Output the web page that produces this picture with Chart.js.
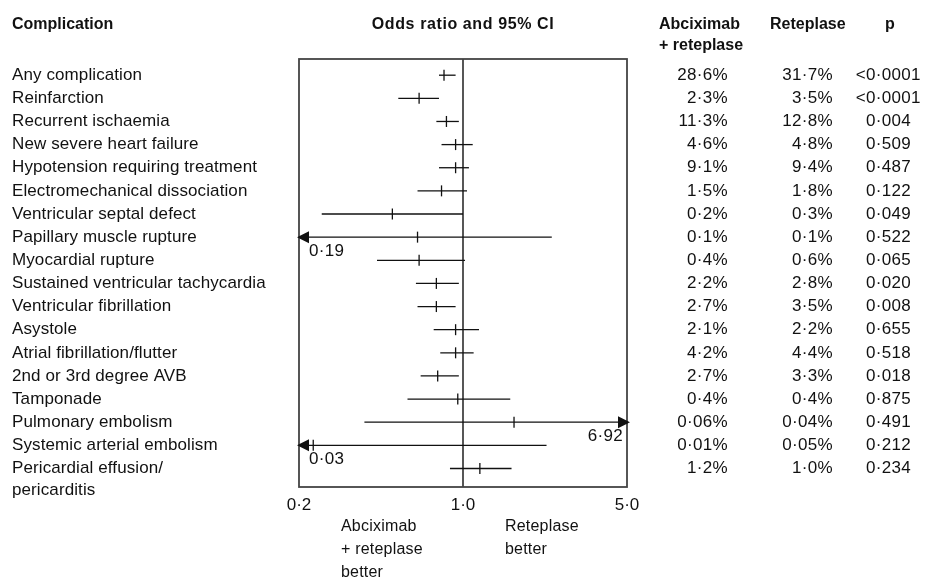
<!DOCTYPE html>
<html>
<head>
<meta charset="utf-8">
<script src="https://cdn.jsdelivr.net/npm/chart.js@4"></script>
<style>
  html, body { margin: 0; padding: 0; background: #fff; }
  #wrap { width: 927px; height: 579px; }
</style>
</head>
<body>
<div id="wrap"><canvas id="forest"></canvas></div>
<script>
        // rows of the forest plot
        const categories = [
            'Any complication', 'Reinfarction', 'Recurrent ischaemia', 'New severe heart failure',
            'Hypotension requiring treatment', 'Electromechanical dissociation', 'Ventricular septal defect',
            'Papillary muscle rupture', 'Myocardial rupture', 'Sustained ventricular tachycardia',
            'Ventricular fibrillation', 'Asystole', 'Atrial fibrillation/flutter', '2nd or 3rd degree AVB',
            'Tamponade', 'Pulmonary embolism', 'Systemic arterial embolism', ['Pericardial effusion/', 'pericarditis']
        ];
        const oddsRatio = [0.83, 0.65, 0.85, 0.93, 0.93, 0.81, 0.50, 0.64, 0.65, 0.77, 0.77, 0.93, 0.93, 0.78, 0.95, 1.65, 0.23, 1.18];
        const ciLow     = [0.79, 0.53, 0.77, 0.81, 0.79, 0.64, 0.25, 0.19, 0.43, 0.63, 0.64, 0.75, 0.80, 0.66, 0.58, 0.38, 0.03, 0.88];
        const ciHigh    = [0.93, 0.79, 0.96, 1.10, 1.06, 1.04, 1.00, 2.39, 1.02, 0.96, 0.93, 1.17, 1.11, 0.96, 1.59, 6.92, 2.27, 1.61];
        const abcRete   = ['28·6%', '2·3%', '11·3%', '4·6%', '9·1%', '1·5%', '0·2%', '0·1%', '0·4%', '2·2%', '2·7%', '2·1%', '4·2%', '2·7%', '0·4%', '0·06%', '0·01%', '1·2%'];
        const rete      = ['31·7%', '3·5%', '12·8%', '4·8%', '9·4%', '1·8%', '0·3%', '0·1%', '0·6%', '2·8%', '3·5%', '2·2%', '4·4%', '3·3%', '0·4%', '0·04%', '0·05%', '1·0%'];
        const pValues   = ['<0·0001', '<0·0001', '0·004', '0·509', '0·487', '0·122', '0·049', '0·522', '0·065', '0·020', '0·008', '0·655', '0·518', '0·018', '0·875', '0·491', '0·212', '0·234'];
        const xTicks = [0.2, 1, 5];
        const xMin = 0.2, xMax = 5;

        const FONT = '"Liberation Sans", Arial, sans-serif';
        const dot = v => v.toFixed(1).replace('.', '·');
        const dot2 = v => String(v).replace('.', '·');

        // one small line dataset per CI
        const ciSets = categories.map((c, i) => ({
            type: 'line',
            data: [{ x: ciLow[i], y: i }, { x: ciHigh[i], y: i }],
            borderColor: '#111',
            borderWidth: 1.3,
            pointRadius: 0,
        }));

        const orSet = {
            type: 'scatter',
            data: oddsRatio.map((v, i) => ({ x: v, y: i })),
            pointStyle: 'line',
            rotation: 90,
            radius: 5.5,
            borderColor: '#111',
            borderWidth: 1.3,
        };

        // box, 1.0 line, arrows and all the text columns
        const forestDeco = {
            id: 'forestDeco',
            beforeDatasetsDraw(chart) {
                const { ctx, chartArea: a, scales: { x } } = chart;
                ctx.save();
                ctx.strokeStyle = '#444';
                ctx.lineWidth = 1.8;
                ctx.strokeRect(a.left, a.top, a.right - a.left, a.bottom - a.top);
                const x1 = x.getPixelForValue(1);
                ctx.beginPath();
                ctx.moveTo(x1, a.top);
                ctx.lineTo(x1, a.bottom);
                ctx.stroke();
                ctx.restore();
            },
            afterDraw(chart) {
                const { ctx, chartArea: a, scales: { x, y } } = chart;
                ctx.save();
                ctx.fillStyle = '#111';
                ctx.textBaseline = 'middle';

                // arrows for truncated intervals
                ctx.font = '17px ' + FONT;
                ctx.letterSpacing = '0.3px';
                categories.forEach((c, i) => {
                    const py = y.getPixelForValue(i);
                    if (ciLow[i] < xMin) {
                        ctx.beginPath();
                        ctx.moveTo(a.left - 2, py);
                        ctx.lineTo(a.left + 10, py - 6);
                        ctx.lineTo(a.left + 10, py + 6);
                        ctx.closePath();
                        ctx.fill();
                        ctx.textAlign = 'left';
                        ctx.fillText(dot2(ciLow[i]), a.left + 10, py + 14);
                    }
                    if (ciHigh[i] > xMax) {
                        ctx.beginPath();
                        ctx.moveTo(a.right + 3, py);
                        ctx.lineTo(a.right - 9, py - 6);
                        ctx.lineTo(a.right - 9, py + 6);
                        ctx.closePath();
                        ctx.fill();
                        ctx.textAlign = 'right';
                        ctx.fillText(dot2(ciHigh[i]), a.right - 4, py + 14);
                    }
                });

                // headers
                ctx.letterSpacing = '0px';
                ctx.font = 'bold 16px ' + FONT;
                ctx.textAlign = 'left';
                ctx.fillText('Complication', 12, 25);
                ctx.fillText('Abciximab', 659, 25);
                ctx.fillText('+ reteplase', 659, 46);
                ctx.fillText('Reteplase', 770, 25);
                ctx.textAlign = 'center';
                ctx.letterSpacing = '0.6px';
                ctx.fillText('Odds ratio and 95% CI', x.getPixelForValue(1), 25);
                ctx.letterSpacing = '0px';
                ctx.fillText('p', 890, 25);

                // row labels
                ctx.font = '17px ' + FONT;
                ctx.letterSpacing = '0.1px';
                ctx.textAlign = 'left';
                categories.forEach((c, i) => {
                    const py = y.getPixelForValue(i);
                    [].concat(c).forEach((line, k) => ctx.fillText(line, 12, py + k * 22));
                });

                // value columns
                ctx.letterSpacing = '0.3px';
                categories.forEach((c, i) => {
                    const py = y.getPixelForValue(i);
                    ctx.textAlign = 'right';
                    ctx.fillText(abcRete[i], 728, py);
                    ctx.fillText(rete[i], 833, py);
                    let p = pValues[i];
                    if (p.startsWith('<')) {
                        ctx.fillText('<', 866, py);
                        p = p.slice(1);
                    }
                    ctx.textAlign = 'left';
                    ctx.fillText(p, 866, py);
                });

                // notes under the axis
                ctx.font = '16px ' + FONT;
                ctx.letterSpacing = '0.2px';
                ctx.textAlign = 'left';
                ['Abciximab', '+ reteplase', 'better'].forEach((t, k) => ctx.fillText(t, 341, 527 + k * 23));
                ['Reteplase', 'better'].forEach((t, k) => ctx.fillText(t, 505, 527 + k * 23));
                ctx.restore();
            }
        };

        new Chart(document.getElementById('forest'), {
            data: { datasets: [...ciSets, orSet] },
            plugins: [forestDeco],
            options: {
                responsive: true,
                maintainAspectRatio: false,
                animation: false,
                layout: { padding: { left: 299, right: 300, top: 59, bottom: 0 } },
                plugins: {
                    legend: { display: false },
                    tooltip: { enabled: false },
                },
                scales: {
                    x: {
                        type: 'logarithmic',
                        min: xMin,
                        max: xMax,
                        grid: { display: false, drawTicks: false },
                        border: { display: false },
                        afterBuildTicks: s => { s.ticks = xTicks.map(v => ({ value: v })); },
                        afterFit: s => { s.height = 92; },
                        ticks: {
                            autoSkip: false,
                            maxRotation: 0,
                            padding: 8,
                            color: '#111',
                            font: { family: FONT, size: 17 },
                            callback: v => dot(v),
                        },
                    },
                    y: {
                        type: 'linear',
                        min: -0.7,
                        max: 17.8,
                        reverse: true,
                        display: false,
                    }
                }
            }
        });
</script>
</body>
</html>
